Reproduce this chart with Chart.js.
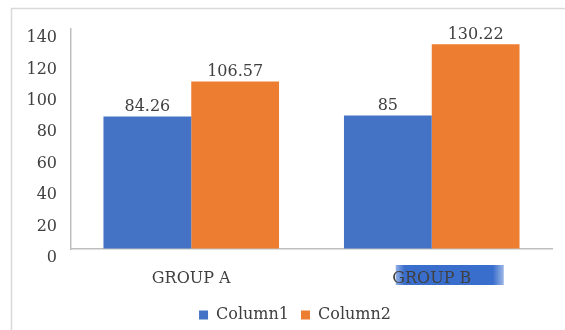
<!DOCTYPE html>
<html>
<head>
<meta charset="utf-8">
<script src="https://cdn.jsdelivr.net/npm/chart.js@4"></script>
<style>
  html, body { margin: 0; padding: 0; background: #fff; }
  #wrap { position: relative; width: 565px; height: 330px; }
</style>
</head>
<body>
<div id="wrap"><canvas id="c" width="565" height="330"></canvas></div>
<script>
const categories = ['GROUP A', 'GROUP B'];
const column1 = [84.26, 85];
const column2 = [106.57, 130.22];
const seriesNames = ['Column1', 'Column2'];
const yTicks = [0, 20, 40, 60, 80, 100, 120, 140];

const FONT = 'DejaVu Serif';
const TEXT = '#404040';

const framePlugin = {
  id: 'frame',
  afterLayout(chart) {
    // place the legend like the original (slightly right of canvas centre, a bit lower)
    const lg = chart.legend;
    if (lg) { lg.left += 19; lg.right += 19; lg.top += 3; lg.bottom += 3; }
  },
  beforeDraw(chart) {
    const ctx = chart.ctx;
    ctx.save();
    ctx.strokeStyle = '#d9d9d9';
    ctx.lineWidth = 1.5;
    ctx.strokeRect(11.5, 8.5, 700, 500);
    // selection highlight behind GROUP B label
    const xs = chart.scales.x;
    const cx = xs.getPixelForValue(1);
    const x0 = cx - 36, x1 = cx + 72, y0 = xs.top + 16, y1 = xs.top + 36;
    const g = ctx.createLinearGradient(x0, 0, x1, 0);
    g.addColorStop(0, 'rgba(58,110,205,0.55)');
    g.addColorStop(0.08, 'rgba(58,110,205,1)');
    g.addColorStop(0.9, 'rgba(58,110,205,1)');
    g.addColorStop(1, 'rgba(58,110,205,0.5)');
    ctx.fillStyle = g;
    ctx.fillRect(x0, y0, x1 - x0, y1 - y0);
    ctx.restore();
  }
};

const valueLabels = {
  id: 'valueLabels',
  afterDatasetsDraw(chart) {
    const ctx = chart.ctx;
    ctx.save();
    ctx.font = '16px "' + FONT + '"';
    ctx.fillStyle = TEXT;
    ctx.textAlign = 'center';
    ctx.textBaseline = 'bottom';
    chart.data.datasets.forEach((ds, i) => {
      chart.getDatasetMeta(i).data.forEach((bar, j) => {
        ctx.fillText(String(ds.data[j]), bar.x, bar.y - 2);
      });
    });
    ctx.restore();
  }
};

new Chart(document.getElementById('c'), {
  type: 'bar',
  data: {
    labels: categories,
    datasets: [
      { label: seriesNames[0], data: column1, backgroundColor: '#4472C4' },
      { label: seriesNames[1], data: column2, backgroundColor: '#ED7D31' }
    ]
  },
  options: {
    responsive: false,
    animation: false,
    events: [],
    layout: { padding: { top: 29, left: 0, right: 13, bottom: 0 } },
    datasets: { bar: { categoryPercentage: 0.73, barPercentage: 1 } },
    scales: {
      x: {
        grid: { display: true, color: 'rgba(0,0,0,0)', drawTicks: false },
        border: { display: true, color: '#bfbfbf', width: 1.5 },
        ticks: { color: TEXT, font: { family: FONT, size: 16 }, padding: 20 },
        afterFit(s) { s.height = 43; }
      },
      y: {
        min: 0, max: 140,
        grid: { display: true, color: 'rgba(0,0,0,0)', drawTicks: false },
        border: { display: true, color: '#bfbfbf', width: 1.5 },
        afterBuildTicks(s) { s.ticks = yTicks.map(v => ({ value: v })); },
        ticks: { color: TEXT, font: { family: FONT, size: 16 }, padding: 14, labelOffset: 9 },
        afterFit(s) { s.width = 71; }
      }
    },
    plugins: {
      legend: {
        position: 'bottom',
        labels: {
          color: TEXT,
          font: { family: FONT, size: 16 },
          boxWidth: 9, boxHeight: 9, padding: 12
        }
      },
      tooltip: { enabled: false }
    }
  },
  plugins: [framePlugin, valueLabels]
});
</script>
</body>
</html>
